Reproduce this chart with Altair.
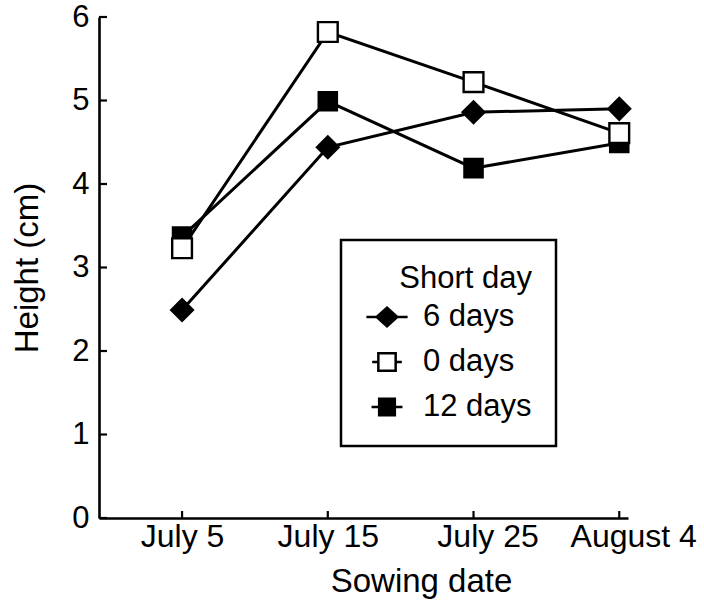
import altair as alt
import pandas as pd

# ---- data ----
date_labels = ["July 5", "July 15", "July 25", "August 4"]
day_offsets = [0, 10, 20, 30]          # days after July 5
series = ["6 days", "0 days", "12 days"]
h_6days = [2.49, 4.44, 4.86, 4.90]
h_0days = [3.23, 5.82, 5.22, 4.61]
h_12days = [3.37, 4.99, 4.19, 4.49]
y_ticks = [0, 1, 2, 3, 4, 5, 6]

FONT = "Liberation Sans"

rows = []
for name, vals in [("6 days", h_6days), ("12 days", h_12days), ("0 days", h_0days)]:
    for d, lab, v in zip(day_offsets, date_labels, vals):
        rows.append({"series": name, "day": d, "date": lab, "height": v})
df = pd.DataFrame(rows)

label_expr = " : ".join(
    f"datum.value == {d} ? '{lab}'" for d, lab in zip(day_offsets, date_labels)
) + " : ''"

x_enc = alt.X(
    "day:Q",
    scale=alt.Scale(domain=[-5.7, 30.6], nice=False, zero=False),
    axis=alt.Axis(
        values=day_offsets, labelExpr=label_expr, title="Sowing date",
        ticks=False, grid=False, domainColor="black", domainWidth=2.6,
        labelFont=FONT, labelFontSize=32, labelColor="black", labelPadding=3,
        labelFlush=False, labelOverlap=False,
        labelOffset=alt.condition("datum.value >= 20", alt.value(14), alt.value(0)),
        titleFont=FONT, titleFontSize=33, titleFontWeight="normal",
        titleColor="black", titlePadding=13, titleX=322,
    ),
)
y_enc = alt.Y(
    "height:Q",
    scale=alt.Scale(domain=[0, 6], nice=False, zero=True),
    axis=alt.Axis(
        values=y_ticks, format="d", title="Height (cm)",
        ticks=False, grid=False, domainColor="black", domainWidth=2.6,
        labelFont=FONT, labelFontSize=31, labelColor="black", labelPadding=10,
        labelFlush=False, labelOverlap=False,
        titleFont=FONT, titleFontSize=33, titleFontWeight="normal",
        titleColor="black", titlePadding=27,
    ),
)

base = alt.Chart(df)

lines = base.mark_line(color="black", strokeWidth=3).encode(
    x=x_enc, y=y_enc, detail="series:N"
)

marker_shapes = ["diamond", "square", "square"]
marker_fills = ["black", "white", "black"]
marker_sizes = [470, 390, 330]

point_layers = []
for name in ["6 days", "12 days", "0 days"]:
    i = series.index(name)
    point_layers.append(
        base.transform_filter(alt.datum.series == name).mark_point(
            filled=True, shape=marker_shapes[i], fill=marker_fills[i],
            stroke="black", strokeWidth=2.4, size=marker_sizes[i], opacity=1,
        ).encode(x=x_enc, y=y_enc)
    )

legend_paths = [
    "M-1,0H-0.5M0.5,0H1M-0.5,0L0,-0.45L0.5,0L0,0.45Z",
    "M-0.72,0H-0.42M0.42,0H0.72M-0.42,-0.42H0.42V0.42H-0.42Z",
    "M-0.75,0H-0.38M0.38,0H0.75M-0.38,-0.4H0.38V0.4H-0.38Z",
]

leg = alt.Legend(
    title="Short day", orient="none", legendX=242, legendY=223,
    strokeColor="black", padding=24, fillColor="white",
    titleFont=FONT, titleFontSize=31, titleFontWeight="normal", titleColor="black",
    titleAnchor="end", titlePadding=0,
    labelFont=FONT, labelFontSize=31, labelColor="black", labelOffset=14,
    symbolSize=1700, symbolStrokeColor="black", symbolStrokeWidth=2.5,
    rowPadding=8,
)

legend_layer = base.transform_filter("datum.height < -100").mark_point(
    filled=False, strokeWidth=2.5, size=1700, opacity=1
).encode(
    x=x_enc, y=y_enc,
    shape=alt.Shape("series:N", scale=alt.Scale(domain=series, range=legend_paths), legend=leg),
    fill=alt.Fill("series:N", scale=alt.Scale(domain=series, range=marker_fills), legend=leg),
    stroke=alt.Stroke("series:N", scale=alt.Scale(domain=series, range=["black", "black", "black"]), legend=leg),
)

ytick_df = pd.DataFrame({"height": y_ticks})
xtick_df = pd.DataFrame({"day": day_offsets})

y_ticks_layer = alt.Chart(ytick_df).mark_rule(color="black", strokeWidth=2.2).encode(
    y=y_enc, x=alt.value(0), x2=alt.value(8)
)
x_ticks_layer = alt.Chart(xtick_df).mark_rule(color="black", strokeWidth=2.2).encode(
    x=x_enc, y=alt.value(501), y2=alt.value(494)
)

chart = alt.layer(
    y_ticks_layer, x_ticks_layer, lines, *point_layers, legend_layer
).properties(
    width=529, height=501,
    padding={"left": 99, "top": 17, "right": 76, "bottom": 82},
    autosize=alt.AutoSizeParams(type="none"),
    background="white",
).configure_view(stroke=None).configure_legend(strokeWidth=2.5)

chart.save("out.html", embed_options={"renderer": "svg", "actions": False})
